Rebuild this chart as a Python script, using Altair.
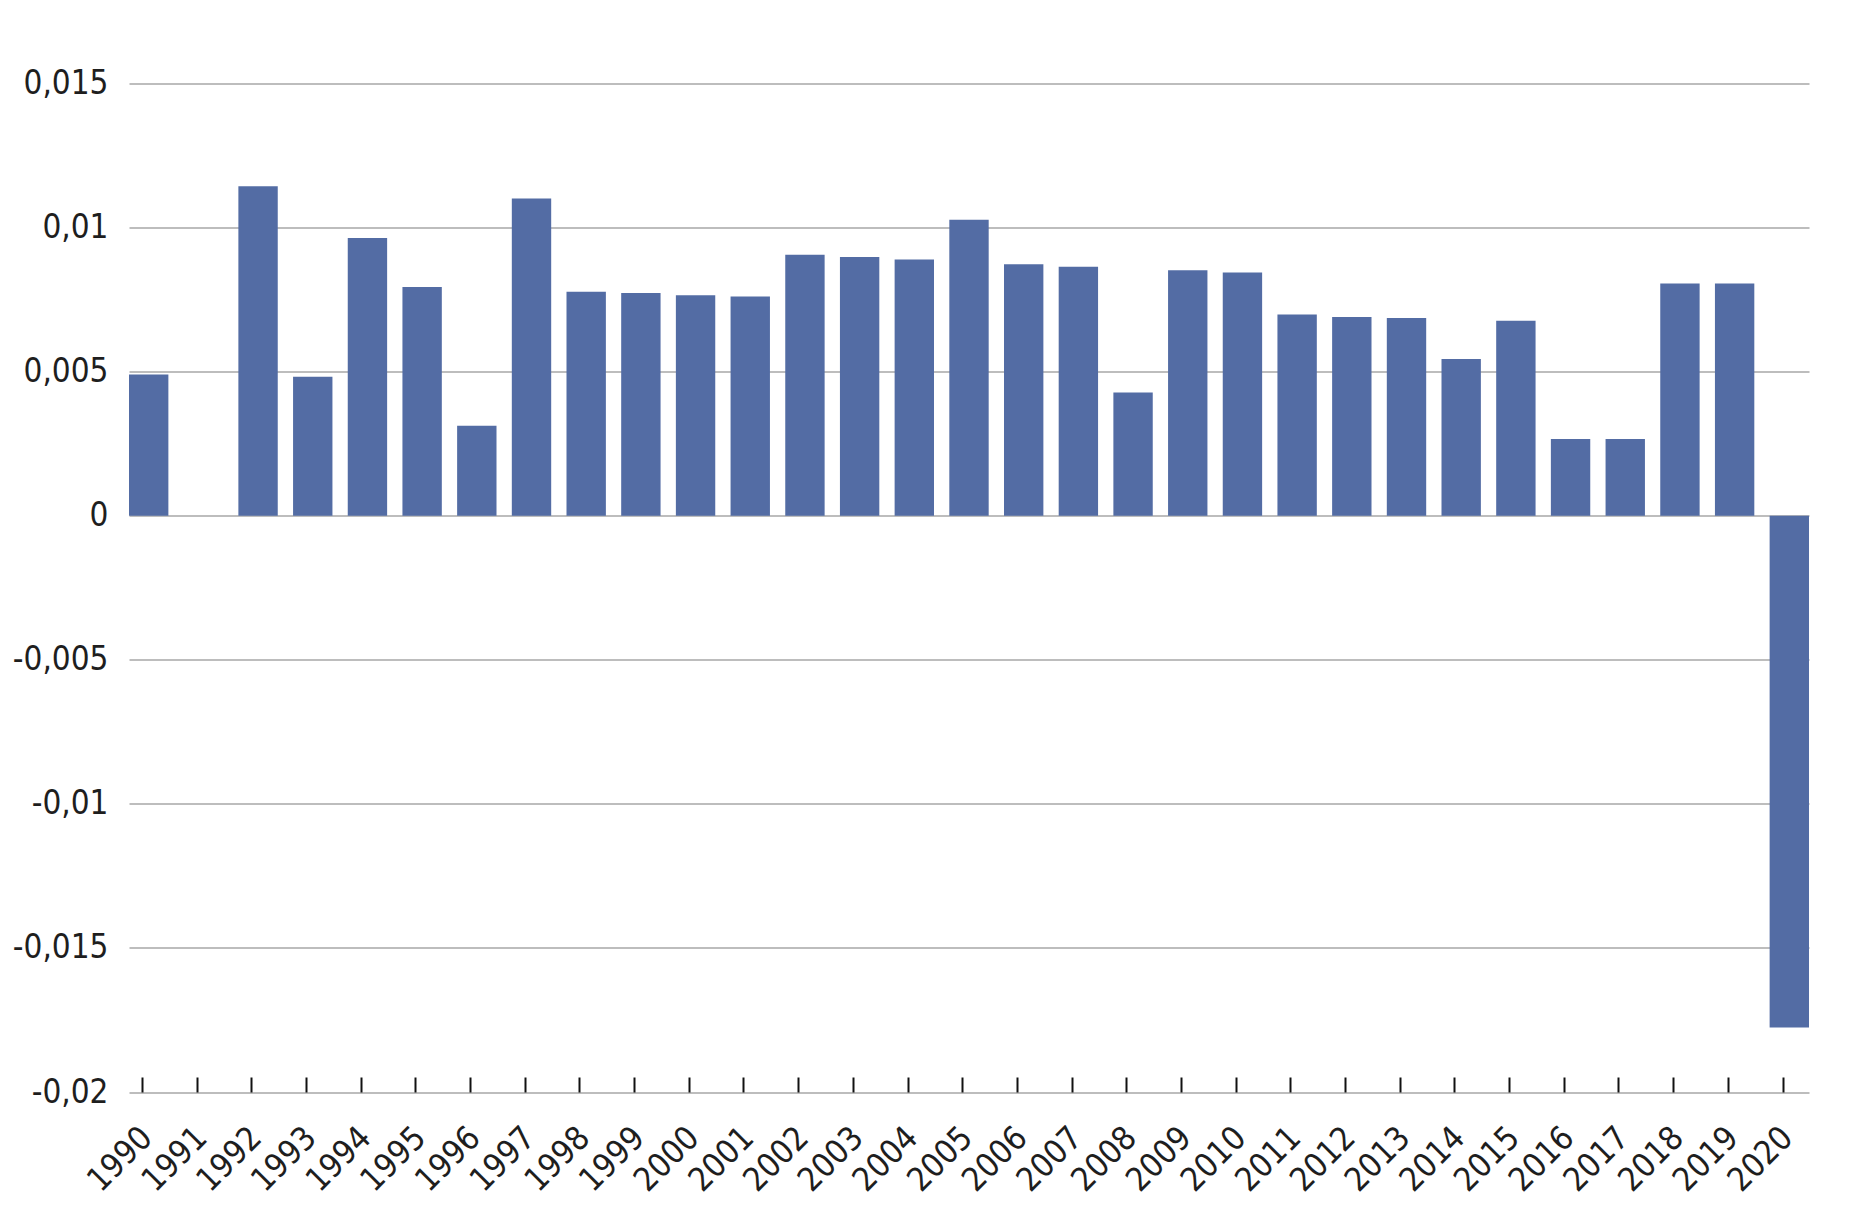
import altair as alt
import pandas as pd

years = [str(y) for y in range(1990, 2021)]
values = [
    0.00490, 0.0, 0.01143, 0.00482, 0.00964, 0.00794, 0.00312, 0.01101,
    0.00777, 0.00773, 0.00765, 0.00761, 0.00906, 0.00898, 0.00889, 0.01027,
    0.00873, 0.00864, 0.00428, 0.00852, 0.00844, 0.00698, 0.00690, 0.00686,
    0.00544, 0.00677, 0.00266, 0.00266, 0.00806, 0.00806, -0.01776,
]
y_ticks = [-0.02, -0.015, -0.01, -0.005, 0, 0.005, 0.01, 0.015]

df = pd.DataFrame({"year": years, "value": values})

FONT = "DejaVu Sans Condensed, Roboto, sans-serif"
TEXT = "#1e1e1e"

chart = alt.Chart(df).mark_bar(color="#536ca4").encode(
    x=alt.X(
        "year:N",
        sort=years,
        title=None,
        scale=alt.Scale(paddingInner=0.28, paddingOuter=0),
        axis=alt.Axis(
            domain=False,
            grid=False,
            ticks=True,
            tickSize=15,
            tickWidth=2,
            tickColor="#111111",
            offset=-15,
            bandPosition=0.34,
            labelAngle=-45,
            labelOffset=-13,
            labelPadding=29,
            labelFont=FONT,
            labelFontSize=33,
            labelColor=TEXT,
        ),
    ),
    y=alt.Y(
        "value:Q",
        title=None,
        scale=alt.Scale(domain=[-0.02, 0.015], nice=False, zero=False),
        axis=alt.Axis(
            values=y_ticks,
            domain=False,
            ticks=False,
            grid=True,
            gridColor="#bdbdbd",
            gridWidth=2,
            labelExpr="replace(toString(datum.value), '.', ',')",
            labelPadding=21,
            labelFont=FONT,
            labelFontSize=33,
            labelColor=TEXT,
        ),
    ),
).properties(
    width=1680,
    height=1008.5,
    autosize=alt.AutoSizeParams(type="none"),
    padding={"left": 121, "top": 75.5, "right": 50, "bottom": 130},
).configure_view(stroke=None)

chart.save("out.html", embed_options={"renderer": "svg", "actions": False})
